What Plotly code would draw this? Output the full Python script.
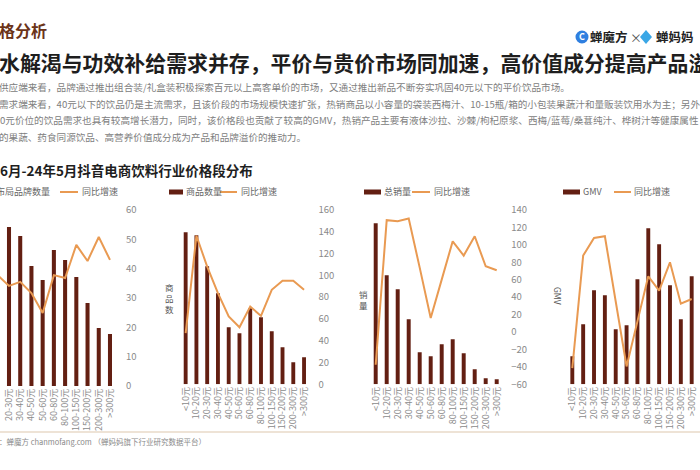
import plotly.graph_objects as go

# ---------------- data ----------------
categories = ["<10元", "10-20元", "20-30元", "30-40元", "40-50元", "50-60元",
              "60-80元", "80-100元", "100-150元", "150-200元", "200-300元", ">300元"]

# chart 1: brand count (relative units) & YoY growth (%)
brand_count = [None, None, 159, 150, 120, 106, 136, 126, 109, 83, 58, 52]
brand_growth = [None, 37.8, 34.1, 35.5, 31.7, 24.9, 37.8, 36.8, 48.1, 42.6, 50.8, 43.0]

# chart 2: product count (relative units) & YoY growth (%)
product_count = [152, 149, 118, 91, 57, 51, 76, 67, 53, 37, 22, 27]
product_growth = [46.9, 136.4, 108.0, 83.7, 62.2, 52.4, 71.4, 62.8, 86.7, 95.0, 95.0, 86.7]

# chart 3: total sales volume (relative units) & YoY growth (%)
sales_volume = [161, 109, 95, 65, 32, 28, 40, 45, 31, 15, 6, 5]
sales_growth = [-37.6, 128.3, 127.1, 130.2, 73.9, 16.1, 60.1, 104.1, 87.7, 109.9, 75.4, 70.8]

# chart 4: GMV (relative units) & YoY growth (%)
gmv = [28, 60, 94, 89, 55, 59, 105, 156, 140, 99, 65, 108]
gmv_growth = [-41.4, 87.7, 108.0, 109.9, 35.0, -39.5, 12.2, 63.9, 47.5, 80.0, 32.5, 37.9]

right_ticks_1 = [0, 10, 20, 30, 40, 50, 60]
right_ticks_2 = [0, 20, 40, 60, 80, 100, 120, 140, 160]
right_ticks_3 = [-60, -40, -20, 0, 20, 40, 60, 80, 100, 120, 140]

# ---------------- styling ----------------
W, H = 700, 470
FONT = "Noto Sans CJK SC"
BAR = "#631f12"
LINE = "#e99a52"
TICK = "#8a8a8a"


def px(x):
    return x / W


def py(y):
    return 1 - y / H


fig = go.Figure()

charts = [
    ("x", "y", "y2", brand_count, brand_growth),
    ("x2", "y3", "y4", product_count, product_growth),
    ("x3", "y5", "y6", sales_volume, sales_growth),
    ("x4", "y7", "y8", gmv, gmv_growth),
]
for xa, yb, yl, bars, growth in charts:
    fig.add_trace(go.Bar(x=categories, y=bars, xaxis=xa, yaxis=yb,
                         marker=dict(color=BAR, line=dict(width=0)), width=0.36))
    fig.add_trace(go.Scatter(x=categories, y=growth, xaxis=xa, yaxis=yl,
                             mode="lines", line=dict(color=LINE, width=2)))

xcommon = dict(type="category", categoryorder="array", categoryarray=categories,
               tickmode="array", tickvals=categories, ticktext=categories,
               tickangle=-90, showgrid=False, zeroline=False,
               showline=False, ticks="", automargin=False,
               tickfont=dict(family=FONT, size=9, color=TICK))
ybar = dict(visible=False, showgrid=False, zeroline=False, automargin=False)
yline = dict(side="right", showgrid=False, zeroline=False, showline=False,
             ticks="outside", ticklen=5, tickcolor="rgba(0,0,0,0)",
             ticksuffix="%", automargin=False,
             tickfont=dict(family=FONT, size=9.5, color=TICK))

layout = dict(
    width=W, height=H, margin=dict(l=0, r=0, t=0, b=0),
    template="none", paper_bgcolor="white", plot_bgcolor="rgba(0,0,0,0)",
    showlegend=False, font=dict(family=FONT),
    xaxis=dict(xcommon, domain=[px(0), px(118)], range=[1.198, 11.715], anchor="y"),
    yaxis=dict(ybar, domain=[py(386), py(210)], range=[0, 176], anchor="x"),
    yaxis2=dict(yline, overlaying="y", anchor="x", range=[0, 60], tickvals=right_ticks_1),
    xaxis2=dict(xcommon, domain=[px(179.2), px(310.5)], range=[-0.6, 11.6], anchor="y3"),
    yaxis3=dict(ybar, domain=[py(384.3), py(210)], range=[0, 174.3], anchor="x2"),
    yaxis4=dict(yline, overlaying="y3", anchor="x2", range=[0, 160], tickvals=right_ticks_2),
    xaxis3=dict(xcommon, domain=[px(369.1), px(503.3)], range=[-0.6, 11.6], anchor="y5"),
    yaxis5=dict(ybar, domain=[py(384.3), py(210)], range=[0, 174.3], anchor="x3"),
    yaxis6=dict(yline, overlaying="y5", anchor="x3", range=[-60, 140], tickvals=right_ticks_3),
    xaxis4=dict(xcommon, domain=[px(565.8), px(698.2)], range=[-0.6, 11.6], anchor="y7"),
    yaxis7=dict(ybar, domain=[py(384.3), py(210)], range=[0, 174.3], anchor="x4"),
    yaxis8=dict(yline, overlaying="y7", anchor="x4", range=[-60, 140],
                tickvals=right_ticks_3, showticklabels=False),
)
fig.update_layout(**layout)

ann = []
shapes = []


def text(x, y, s, size, color, anchor="left", bold=False, angle=0):
    ann.append(dict(x=px(x), y=py(y), xref="paper", yref="paper", text=("<b>%s</b>" % s) if bold else s,
                    showarrow=False, xanchor=anchor, yanchor="middle", textangle=angle,
                    font=dict(family=FONT, size=size, color=color)))


# header
text(-3, 30, "格分析", 16, "#6b3318", bold=True)
text(-3, 62, "水解渴与功效补给需求并存，平价与贵价市场同加速，高价值成分提高产品溢价", 20.9, "#1e1e1e", bold=True)
body = "#808080"
text(-3, 87, "供应端来看，品牌通过推出组合装/礼盒装积极探索百元以上高客单价的市场，又通过推出新品不断夯实巩固40元以下的平价饮品市场。", 9.6, body)
text(-3, 104, "需求端来看，40元以下的饮品仍是主流需求，且该价段的市场规模快速扩张，热销商品以小容量的袋装西梅汁、10-15瓶/箱的小包装果蔬汁和量贩装饮用水为主；另外，", 9.6, body)
text(-2, 120, "0元价位的饮品需求也具有较高增长潜力，同时，该价格段也贡献了较高的GMV，热销产品主要有液体沙拉、沙棘/枸杞原浆、西梅/蓝莓/桑葚纯汁、桦树汁等健康属性", 9.6, body)
text(-3, 137, "的果蔬、药食同源饮品、高营养价值成分成为产品和品牌溢价的推动力。", 9.6, body)

# logo
shapes.append(dict(type="circle", xref="paper", yref="paper", x0=px(575.5), x1=px(588.5),
                   y0=py(43.5), y1=py(30.5), fillcolor="#2f7fe0", line=dict(width=0)))
text(582, 37, "C", 9, "white", anchor="center", bold=True)
text(588, 37, "蝉魔方", 12.5, "#222222", bold=True)
text(628, 37.5, "×", 12, "#555555")
shapes.append(dict(type="path", xref="paper", yref="paper",
                   path="M %f %f L %f %f L %f %f L %f %f Z" % (px(646), py(30), px(652), py(37),
                                                               px(646), py(44), px(640), py(37)),
                   fillcolor="#3aa7e6", line=dict(width=0)))
text(654, 37, "蝉妈妈", 12.5, "#222222", bold=True)

# chart title
text(-2, 170, "6月-24年5月抖音电商饮料行业价格段分布", 13.5, "#1e1e1e", bold=True)

# legends
leg = "#666666"
LY = 192


def swatch(x0, x1):
    shapes.append(dict(type="rect", xref="paper", yref="paper", x0=px(x0), x1=px(x1),
                       y0=py(LY + 2.5), y1=py(LY - 2.5), fillcolor=BAR, line=dict(width=0)))


def lsample(x0, x1):
    shapes.append(dict(type="line", xref="paper", yref="paper", x0=px(x0), x1=px(x1),
                       y0=py(LY), y1=py(LY), line=dict(color=LINE, width=2)))


text(52, LY, "布局品牌数量", 9, leg, anchor="right")
lsample(60, 78)
text(80, LY, "同比增速", 9, leg)
swatch(169, 183)
text(184, LY, "商品数量", 9, leg)
lsample(220, 237)
text(239, LY, "同比增速", 9, leg)
swatch(364, 381)
text(382, LY, "总销量", 9, leg)
lsample(412, 430)
text(432, LY, "同比增速", 9, leg)
swatch(563, 580)
text(581, LY, "GMV", 9, leg)
lsample(614, 631)
text(632, LY, "同比增速", 9, leg)

# axis titles
text(169, 298, "商<br>品<br>数", 8.5, "#555555", anchor="center")
text(363, 299, "销<br>量", 8.5, "#555555", anchor="center")
text(558, 296, "GMV", 8.5, "#555555", anchor="center", angle=90)

# footer
shapes.append(dict(type="line", xref="paper", yref="paper", x0=0, x1=1, y0=py(432), y1=py(432),
                   line=dict(color="#e8dac8", width=1.5)))
text(-3, 441, "：蝉魔方 chanmofang.com （蝉妈妈旗下行业研究数据平台）", 7.5, "#8a8a8a")

fig.update_layout(annotations=ann, shapes=shapes)
fig.write_html("out.html", config={"displayModeBar": False})

# remove the browser's default page margin so the figure sits at the window's top-left
with open("out.html", "r", encoding="utf-8") as f:
    html = f.read()
html = html.replace("<head>", "<head><style>html,body{margin:0;padding:0;overflow:hidden;}</style>", 1)
with open("out.html", "w", encoding="utf-8") as f:
    f.write(html)
